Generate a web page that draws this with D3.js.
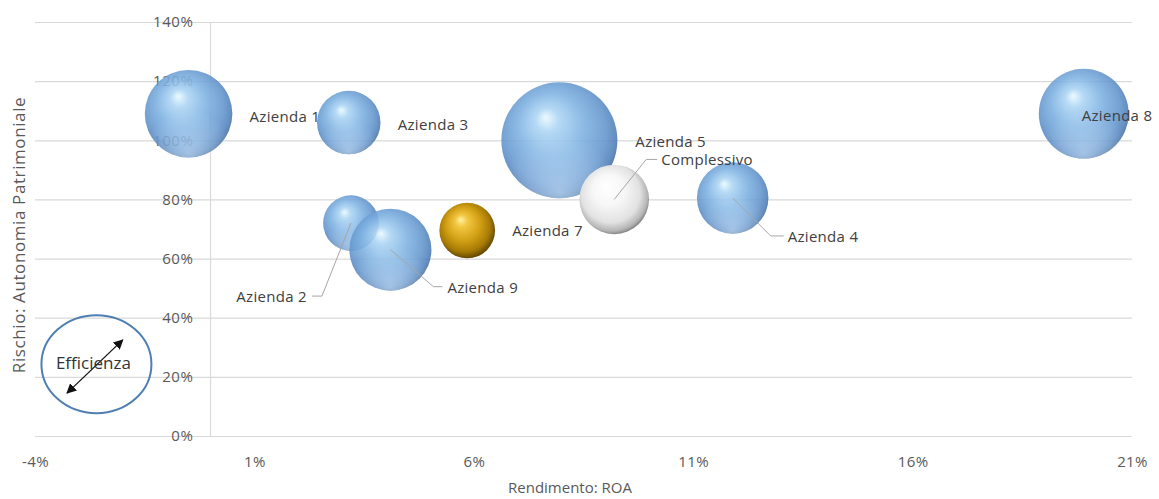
<!DOCTYPE html>
<html>
<head>
<meta charset="utf-8">
<script src="https://cdn.jsdelivr.net/npm/d3@7"></script>
<style>
  html, body { margin: 0; padding: 0; background: #fff; }
  #chart { width: 1159px; height: 499px; }
</style>
</head>
<body>
<div id="chart"></div>
<script>
// Bubble chart: ROA (x) vs autonomia patrimoniale (y), bubble = peso

// data
const aziende = ['Azienda 1', 'Azienda 2', 'Azienda 3', 'Azienda 4', 'Azienda 5', 'Azienda 7', 'Azienda 8', 'Azienda 9', 'Complessivo'];
const roa = [-0.5, 3.2, 3.15, 11.9, 7.95, 5.85, 19.9, 4.1, 9.2];          // %
const autonomia = [109, 72, 106, 80.5, 100, 69.5, 109, 63, 80];             // %
const peso = [57, 23, 30, 38, 100, 23, 60, 50, 36];                         // bubble size
const gruppo = ['blu', 'blu', 'blu', 'blu', 'blu', 'oro', 'blu', 'blu', 'bianco'];

const xTicks = [-4, 1, 6, 11, 16, 21];
const yTicks = [0, 20, 40, 60, 80, 100, 120, 140];

(function() {
  const W = 1159, H = 499;
  const margin = { top: 22, right: 27, bottom: 63, left: 35 };
  const width = W - margin.left - margin.right;
  const height = H - margin.top - margin.bottom;
  const font = '"Open Sans", "Liberation Sans", sans-serif';

  const svg = d3.select('#chart').append('svg')
    .attr('width', W).attr('height', H)
    .style('font-family', font);

  const defs = svg.append('defs');

  // 3D sphere gradients
  const gradStops = {
    blu: [[0, '#eafaff'], [0.18, '#acd5f4'], [0.5, '#7eb2e2'], [0.8, '#6395cd'], [0.93, '#5080ba'], [1, '#426b9a']],
    oro: [[0, '#fff2a6'], [0.2, '#f2c640'], [0.55, '#d19f14'], [0.82, '#a67a05'], [1, '#5e4400']],
    bianco: [[0, '#ffffff'], [0.4, '#f7f7f7'], [0.75, '#e2e2e2'], [0.92, '#b5b5b5'], [1, '#7d7d7d']]
  };
  Object.keys(gradStops).forEach(k => {
    const g = defs.append('radialGradient')
      .attr('id', 'g-' + k)
      .attr('cx', '0.47').attr('cy', '0.45').attr('r', '0.56')
      .attr('fx', '0.38').attr('fy', '0.3');
    gradStops[k].forEach(s => g.append('stop').attr('offset', s[0]).attr('stop-color', s[1]));
  });
  // soft reflection at the bottom of the bubbles
  const refl = defs.append('radialGradient')
    .attr('id', 'g-refl').attr('cx', '0.5').attr('cy', '0.95').attr('r', '0.5');
  refl.append('stop').attr('offset', 0).attr('stop-color', '#cfe8ff').attr('stop-opacity', 0.55);
  refl.append('stop').attr('offset', 1).attr('stop-color', '#cfe8ff').attr('stop-opacity', 0);

  defs.append('marker')
    .attr('id', 'arrow')
    .attr('viewBox', '0 0 10 10')
    .attr('refX', 9).attr('refY', 5)
    .attr('markerWidth', 10).attr('markerHeight', 10)
    .attr('orient', 'auto-start-reverse')
    .attr('markerUnits', 'userSpaceOnUse')
    .append('path').attr('d', 'M0,0 L10,5 L0,10 z').attr('fill', '#111');

  const g = svg.append('g').attr('transform', `translate(${margin.left},${margin.top})`);

  const x = d3.scaleLinear().domain([-4, 21]).range([0, width]);
  const y = d3.scaleLinear().domain([0, 140]).range([height, 0]);
  const r = d3.scaleSqrt().domain([0, 100]).range([0, 58]);

  // horizontal gridlines
  const yAxis = d3.axisLeft(y).tickValues(yTicks).tickSize(-width).tickFormat(d => d + '%');
  const gy = g.append('g').call(yAxis);
  gy.select('.domain').remove();
  gy.selectAll('line').attr('stroke', '#d9d9d9').attr('stroke-width', 1.2);
  gy.selectAll('text').remove();

  // vertical axis at x = 0
  g.append('line')
    .attr('x1', x(0)).attr('x2', x(0))
    .attr('y1', 0).attr('y2', height)
    .attr('stroke', '#d9d9d9').attr('stroke-width', 1.2);

  // y tick labels beside the axis at x = 0
  g.selectAll('.ylab').data(yTicks).enter().append('text')
    .attr('class', 'ylab')
    .attr('x', x(0) - 17).attr('y', d => y(d))
    .attr('dy', '0.35em')
    .attr('text-anchor', 'end')
    .style('font-size', '15px').style('letter-spacing', '0.6px').style('fill', '#595959')
    .text(d => d + '%');

  // x tick labels
  const xAxis = d3.axisBottom(x).tickValues(xTicks).tickSize(0).tickPadding(20).tickFormat(d => d + '%');
  const gx = g.append('g').attr('transform', `translate(0,${height})`).call(xAxis);
  gx.select('.domain').remove();
  gx.selectAll('text')
    .style('font-size', '15px').style('letter-spacing', '0.4px').style('fill', '#595959')
    .style('font-family', font);

  // axis titles
  svg.append('text')
    .attr('x', 570).attr('y', 493)
    .attr('text-anchor', 'middle')
    .style('font-size', '15px').style('fill', '#595959')
    .text('Rendimento: ROA');
  svg.append('text')
    .attr('transform', 'translate(25,235) rotate(-90)')
    .attr('text-anchor', 'middle')
    .style('font-size', '17px').style('letter-spacing', '0.6px').style('fill', '#595959')
    .text('Rischio: Autonomia Patrimoniale');

  const points = aziende.map((n, i) => ({ name: n, x: roa[i], y: autonomia[i], size: peso[i], grp: gruppo[i] }));

  // bubbles
  const bub = g.selectAll('.bubble').data(points).enter().append('g').attr('class', 'bubble')
    .style('opacity', d => d.grp === 'blu' ? 0.88 : 1);
  bub.append('circle')
    .attr('cx', d => x(d.x)).attr('cy', d => y(d.y)).attr('r', d => r(d.size))
    .attr('fill', d => 'url(#g-' + d.grp + ')');
  bub.filter(d => d.grp === 'blu').append('circle')
    .attr('cx', d => x(d.x)).attr('cy', d => y(d.y)).attr('r', d => r(d.size))
    .attr('fill', 'url(#g-refl)');

  // label layout: offset from bubble center, optional leader elbow
  const labelLayout = {
    'Azienda 1': { dx: 61, dy: 3 },
    'Azienda 2': { dx: -44, dy: 74, anchor: 'end', leader: [[-29, 73], [-39, 73]] },
    'Azienda 3': { dx: 49, dy: 2 },
    'Azienda 4': { dx: 55, dy: 39, leader: [[38, 38], [51, 38]] },
    'Azienda 5': { dx: 76, dy: 1 },
    'Azienda 7': { dx: 45, dy: 0 },
    'Azienda 8': { dx: -2, dy: 2 },
    'Azienda 9': { dx: 57, dy: 38, leader: [[43, 37], [52, 37]] },
    'Complessivo': { dx: 47, dy: -40, leader: [[32, -40], [43, -40]] }
  };

  g.selectAll('.leader').data(points.filter(d => labelLayout[d.name].leader)).enter()
    .append('polyline')
    .attr('class', 'leader')
    .attr('points', d => {
      const cx = x(d.x), cy = y(d.y);
      return [[cx, cy]].concat(labelLayout[d.name].leader.map(p => [cx + p[0], cy + p[1]])).join(' ');
    })
    .attr('fill', 'none').attr('stroke', '#a6a6a6').attr('stroke-width', 1);

  g.selectAll('.blabel').data(points).enter().append('text')
    .attr('class', 'blabel')
    .attr('x', d => x(d.x) + labelLayout[d.name].dx)
    .attr('y', d => y(d.y) + labelLayout[d.name].dy)
    .attr('dy', '0.35em')
    .attr('text-anchor', d => labelLayout[d.name].anchor || 'start')
    .style('font-size', '15px').style('letter-spacing', '0.3px').style('fill', '#404040')
    .text(d => d.name);

  // "Efficienza" annotation
  const ann = { x: -2.6, y: 24.3, x1: -3.27, y1: 14.5, x2: -2.0, y2: 32.5 };
  g.append('ellipse')
    .attr('cx', x(ann.x)).attr('cy', y(ann.y))
    .attr('rx', 55).attr('ry', 49)
    .attr('fill', 'none').attr('stroke', '#4f7fb2').attr('stroke-width', 2);
  g.append('line')
    .attr('x1', x(ann.x1)).attr('y1', y(ann.y1))
    .attr('x2', x(ann.x2)).attr('y2', y(ann.y2))
    .attr('stroke', '#111').attr('stroke-width', 1.3)
    .attr('marker-start', 'url(#arrow)').attr('marker-end', 'url(#arrow)');
  g.append('text')
    .attr('x', x(ann.x) - 3).attr('y', y(ann.y) - 1)
    .attr('dy', '0.35em')
    .attr('text-anchor', 'middle')
    .style('font-size', '17px').style('fill', '#333')
    .text('Efficienza');
})();
</script>
</body>
</html>
